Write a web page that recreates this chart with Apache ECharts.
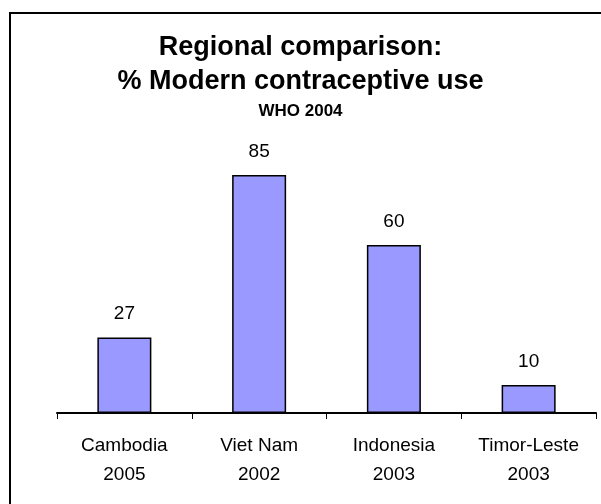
<!DOCTYPE html>
<html>
<head>
<meta charset="utf-8">
<script src="https://cdn.jsdelivr.net/npm/echarts@6/dist/echarts.min.js"></script>
<style>
  html, body { margin: 0; padding: 0; background: #fff; }
  #chart { width: 601px; height: 504px; }
</style>
</head>
<body>
<div id="chart"></div>
<script>
// Countries with survey year, and % of women using modern contraception
const countries = ['Cambodia', 'Viet Nam', 'Indonesia', 'Timor-Leste'];
const surveyYears = ['2005', '2002', '2003', '2003'];
const modernUse = [27, 85, 60, 10];

const FONT = '"Liberation Sans", Arial, sans-serif';
const categories = countries.map((c, i) => c + '\n' + surveyYears[i]);

const chart = echarts.init(document.getElementById('chart'), null, { renderer: 'canvas' });

chart.setOption({
  animation: false,
  backgroundColor: '#ffffff',
  title: [
    {
      text: 'Regional comparison:',
      left: 'center',
      top: 27,
      textStyle: { fontFamily: FONT, fontSize: 27, fontWeight: 'bold', color: '#000', lineHeight: 32 }
    },
    {
      text: '% Modern contraceptive use',
      left: 'center',
      top: 61,
      textStyle: { fontFamily: FONT, fontSize: 27, fontWeight: 'bold', color: '#000', lineHeight: 32 }
    },
    {
      text: 'WHO 2004',
      left: 'center',
      top: 96,
      textStyle: { fontFamily: FONT, fontSize: 17, fontWeight: 'bold', color: '#000', lineHeight: 20 }
    }
  ],
  graphic: [
    {
      type: 'rect',
      shape: { x: 10, y: 13, width: 700, height: 600 },
      style: { fill: 'none', stroke: '#000', lineWidth: 2 },
      silent: true
    }
  ],
  grid: { left: 57, right: 5, top: 133, bottom: 91, containLabel: false },
  xAxis: {
    type: 'category',
    data: categories,
    axisLine: { show: true, lineStyle: { color: '#000', width: 2 } },
    axisTick: { show: true, length: 6, lineStyle: { color: '#000', width: 1 } },
    axisLabel: {
      color: '#000',
      fontFamily: FONT,
      fontSize: 19,
      lineHeight: 29,
      margin: 18
    },
    splitLine: { show: false }
  },
  yAxis: {
    type: 'value',
    min: 0,
    max: 100,
    show: false
  },
  series: [
    {
      type: 'bar',
      data: modernUse,
      barWidth: 54,
      itemStyle: { color: '#9999FF', borderColor: '#000', borderWidth: 1.5 },
      label: {
        show: true,
        position: 'top',
        distance: 14,
        color: '#000',
        fontFamily: FONT,
        fontSize: 19,
        lineHeight: 19
      }
    }
  ]
});
</script>
</body>
</html>
